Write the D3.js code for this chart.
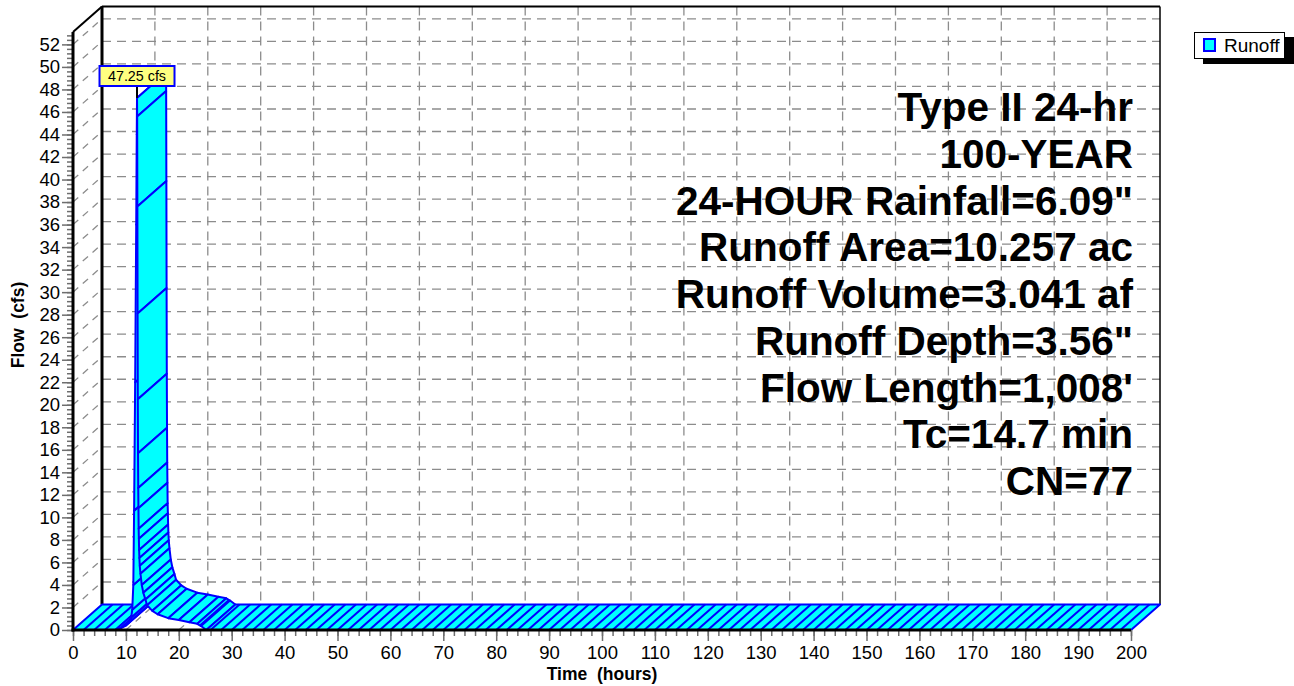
<!DOCTYPE html>
<html><head><meta charset="utf-8">
<script src="https://cdn.jsdelivr.net/npm/d3@7"></script>
<style>
body{margin:0;background:#fff}
svg{display:block}
text{font-family:"Liberation Sans",Arial,Helvetica,sans-serif}
</style>
</head><body>
<svg id="chart" width="1294" height="686"></svg>
<script>
// ---------------- data ----------------
const timeHours = [0, 8.0, 9.0, 10.0, 10.5, 11.0, 11.2, 11.4, 11.55, 11.75, 11.95, 12.05, 12.1,
  12.13, 12.17, 12.21, 12.25, 12.29, 12.33, 12.37, 12.41, 12.45, 12.5, 12.55, 12.62, 12.75,
  13.0, 13.3, 13.7, 14, 15, 16, 18, 20, 22, 23.5, 24.2, 25.2, 200];
const flowCfs = [0, 0, 0.15, 0.4, 0.65, 1.1, 1.8, 4.0, 10.6, 22, 36, 44, 47.25,
  45.6, 37.6, 28.1, 20.5, 15.7, 12.6, 10.8, 9.0, 8.1, 7.1, 6.4, 5.7, 5.0,
  4.0, 3.3, 2.7, 2.2, 1.7, 1.4, 1.05, 0.88, 0.68, 0.55, 0.35, 0, 0];
const xTickValues = [0,10,20,30,40,50,60,70,80,90,100,110,120,130,140,150,160,170,180,190,200];
const yTickValues = [0,2,4,6,8,10,12,14,16,18,20,22,24,26,28,30,32,34,36,38,40,42,44,46,48,50,52];
const infoLines = ["Type II 24-hr", "100-YEAR", "24-HOUR Rainfall=6.09\"", "Runoff Area=10.257 ac",
  "Runoff Volume=3.041 af", "Runoff Depth=3.56\"", "Flow Length=1,008'", "Tc=14.7 min", "CN=77"];
const seriesName = "Runoff";
const peakText = "47.25 cfs";
const xTitle = "Time\u00a0\u00a0(hours)";
const yTitle = "Flow\u00a0\u00a0(cfs)";

// ---------------- layout / style ----------------
const CYAN = "#00FFFF", BLUE = "#0000FF", GRID = "#8c8c8c";
const DX = 29, DY = -25.5;          // 3D depth offset
const HATCH_STEP = 2;               // hours between hatch lines
const svg = d3.select("#chart");
const x = d3.scaleLinear().domain([0, 200]).range([73, 1131]);
const y = d3.scaleLinear().domain([0, 53.1]).range([630, 32]);
const x0 = x.range()[0], x1 = x.range()[1], yb = y.range()[0], yt = y.range()[1];

// back wall
svg.append("rect").attr("x", x0 + DX).attr("y", yt + DY)
  .attr("width", x1 - x0).attr("height", yb - yt).attr("fill", "#fff");

const grid = svg.append("g").attr("stroke", GRID).attr("stroke-width", 1.3)
  .attr("stroke-dasharray", "9,6").attr("fill", "none");
grid.selectAll(".hg").data(yTickValues.filter(v => v > 0)).join("line")
  .attr("x1", x0 + DX).attr("x2", x1 + DX)
  .attr("y1", d => y(d) + DY).attr("y2", d => y(d) + DY);
grid.selectAll(".vg").data(xTickValues.filter(v => v > 0 && v < 200)).join("line")
  .attr("x1", d => x(d) + DX).attr("x2", d => x(d) + DX)
  .attr("y1", yt + DY).attr("y2", yb + DY);
grid.selectAll(".lw").data(yTickValues.filter(v => v > 0)).join("line")
  .attr("stroke-dasharray", "7,6")
  .attr("x1", x0).attr("y1", d => y(d)).attr("x2", x0 + DX).attr("y2", d => y(d) + DY);
grid.selectAll(".fl").data(xTickValues.filter(v => v > 0 && v < 200)).join("line")
  .attr("stroke-dasharray", "7,6")
  .attr("x1", d => x(d)).attr("y1", yb).attr("x2", d => x(d) + DX).attr("y2", yb + DY);

// wall borders
svg.append("line").attr("x1", x0 + DX).attr("x2", x0 + DX).attr("y1", yt + DY).attr("y2", yb + DY)
  .attr("stroke", "#000").attr("stroke-width", 3);
svg.append("line").attr("x1", x0 + DX).attr("x2", x1 + DX).attr("y1", yt + DY).attr("y2", yt + DY)
  .attr("stroke", "#000").attr("stroke-width", 2);
svg.append("line").attr("x1", x1 + DX).attr("x2", x1 + DX).attr("y1", yt + DY).attr("y2", yb + DY)
  .attr("stroke", "#000").attr("stroke-width", 1.5);
svg.append("line").attr("x1", x0).attr("y1", yt).attr("x2", x0 + DX).attr("y2", yt + DY)
  .attr("stroke", "#000").attr("stroke-width", 2);

// ---------------- series ribbon ----------------
const pts = timeHours.map((t, i) => ({t, q: flowCfs[i]}));
const ser = svg.append("g");
for (let i = 0; i < pts.length - 1; i++) {
  const a = pts[i], b = pts[i + 1];
  const quad = [[x(a.t), y(a.q)], [x(b.t), y(b.q)], [x(b.t) + DX, y(b.q) + DY], [x(a.t) + DX, y(a.q) + DY]];
  ser.append("polygon").attr("points", quad.map(p => p.join(",")).join(" "))
    .attr("fill", CYAN).attr("stroke", BLUE).attr("stroke-width", 2).attr("stroke-linejoin", "round");
  const k0 = Math.floor(a.t / HATCH_STEP) + 1;
  for (let k = k0; k * HATCH_STEP < b.t; k++) {
    const t = k * HATCH_STEP;
    const q = a.q + (b.q - a.q) * (t - a.t) / (b.t - a.t);
    ser.append("line").attr("x1", x(t)).attr("y1", y(q)).attr("x2", x(t) + DX).attr("y2", y(q) + DY)
      .attr("stroke", BLUE).attr("stroke-width", 2);
  }
}

// ---------------- axes ----------------
const tickColor = "#6e6e6e";
const fmtAxis = g => {
  g.select(".domain").remove();
  g.selectAll(".tick line").attr("stroke", tickColor).attr("stroke-width", 1.5);
  g.selectAll("text").attr("fill", "#000").attr("font-size", 18.5)
    .style("font-family", '"Liberation Sans",Arial,sans-serif');
};
svg.append("g").attr("transform", `translate(${x0},0)`)
  .call(d3.axisLeft(y).tickValues(d3.range(0, 53, 0.4)).tickSize(6).tickFormat(""))
  .call(fmtAxis);
svg.append("g").attr("transform", `translate(${x0},0)`)
  .call(d3.axisLeft(y).tickValues(yTickValues).tickSize(11).tickPadding(2).tickFormat(d3.format("d")))
  .call(fmtAxis);
svg.append("g").attr("transform", `translate(0,${yb})`)
  .call(d3.axisBottom(x).tickValues(d3.range(0, 201, 2)).tickSize(6).tickFormat(""))
  .call(fmtAxis);
svg.append("g").attr("transform", `translate(0,${yb})`)
  .call(d3.axisBottom(x).tickValues(xTickValues).tickSize(11).tickPadding(5).tickFormat(d3.format("d")))
  .call(fmtAxis);
svg.append("line").attr("x1", x0).attr("x2", x0).attr("y1", yt).attr("y2", yb + 1.5)
  .attr("stroke", "#000").attr("stroke-width", 3);
svg.append("line").attr("x1", x0 - 1.5).attr("x2", x1).attr("y1", yb).attr("y2", yb)
  .attr("stroke", "#000").attr("stroke-width", 3);

// axis titles
svg.append("text").attr("x", (x0 + x1) / 2).attr("y", 680).attr("text-anchor", "middle")
  .attr("font-size", 17.5).attr("font-weight", "bold").text(xTitle);
svg.append("text").attr("transform", `translate(24,${325}) rotate(-90)`).attr("text-anchor", "middle")
  .attr("font-size", 17.5).attr("font-weight", "bold").text(yTitle);

// ---------------- peak label ----------------
const iPeak = d3.maxIndex(flowCfs);
const px = x(timeHours[iPeak]), py = y(flowCfs[iPeak]);
const lab = svg.append("g");
lab.append("line").attr("x1", px).attr("x2", px).attr("y1", 86).attr("y2", py)
  .attr("stroke", "#000").attr("stroke-width", 2);
lab.append("rect").attr("x", px - 37.5).attr("y", 66).attr("width", 75).attr("height", 20)
  .attr("fill", "#FFFF80").attr("stroke", BLUE).attr("stroke-width", 2);
lab.append("text").attr("x", px).attr("y", 81).attr("text-anchor", "middle")
  .attr("font-size", 14.3).text(peakText);

// ---------------- info text ----------------
svg.append("g").selectAll("text").data(infoLines).join("text")
  .attr("x", 1133).attr("y", (d, i) => 121 + i * 46.75).attr("text-anchor", "end")
  .attr("font-size", 40.5).attr("font-weight", "bold").attr("fill", "#000").text(d => d);

// ---------------- legend ----------------
const lg = svg.append("g");
lg.append("rect").attr("x", 1203).attr("y", 37).attr("width", 91).attr("height", 27).attr("fill", "#000");
lg.append("rect").attr("x", 1194.5).attr("y", 32.5).attr("width", 90).attr("height", 26)
  .attr("fill", "#fff").attr("stroke", "#000").attr("stroke-width", 1);
lg.append("rect").attr("x", 1204).attr("y", 39).attr("width", 11).attr("height", 12)
  .attr("fill", CYAN).attr("stroke", BLUE).attr("stroke-width", 2);
lg.append("text").attr("x", 1224).attr("y", 52).attr("font-size", 19).text(seriesName);
</script>
</body></html>
